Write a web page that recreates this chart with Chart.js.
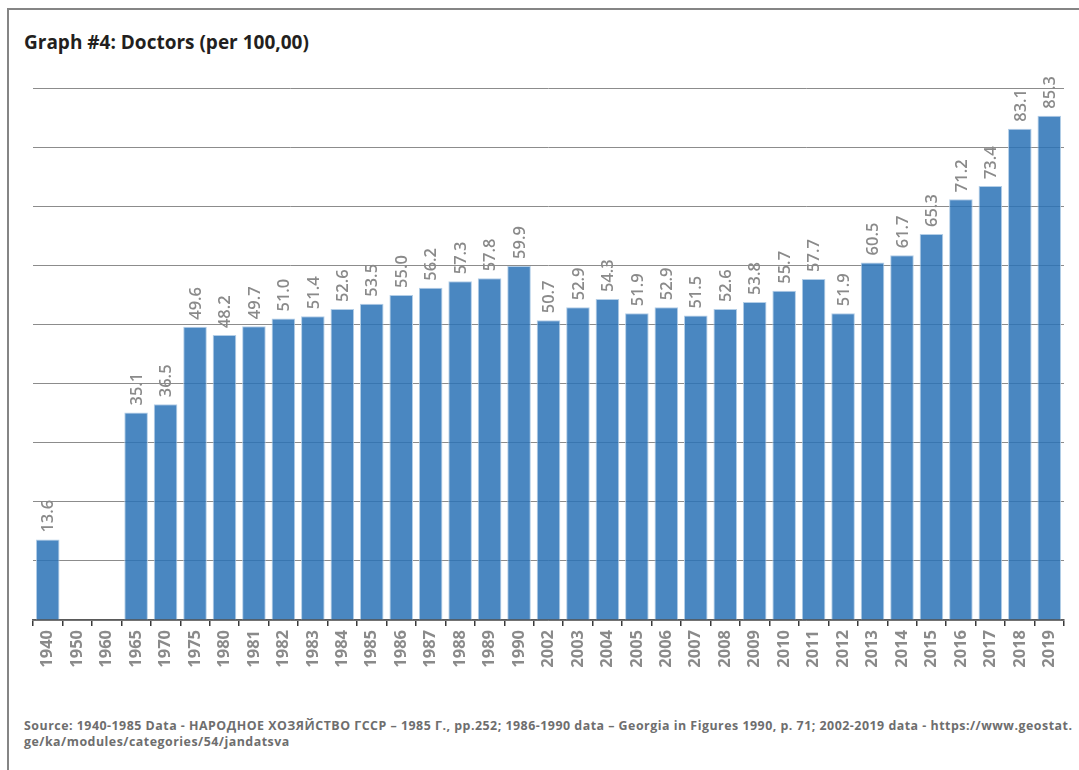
<!DOCTYPE html>
<html>
<head>
<meta charset="utf-8">
<script src="https://cdn.jsdelivr.net/npm/chart.js@4.4.1/dist/chart.umd.min.js"></script>
<style>
  html, body { margin: 0; padding: 0; background: #ffffff; }
  body { width: 1079px; height: 770px; position: relative; overflow: hidden; }
  .frame { position: absolute; left: 7px; top: 8px; width: 1100px; height: 800px;
           border: 2px solid #858585; box-sizing: border-box; }
  .title { position: absolute; left: 24px; top: 29px; font-family: "Open Sans", sans-serif;
           font-weight: 700; font-size: 19px; color: #231f20; white-space: nowrap; }
  .source { position: absolute; left: 24px; top: 718px; font-family: "Open Sans", sans-serif;
            font-weight: 700; font-size: 12.4px; line-height: 16px; color: #6e6e6e;
            white-space: nowrap; letter-spacing: 0.5px; }
  #chart { position: absolute; left: 0; top: 0; }
</style>
</head>
<body>
<div class="frame"></div>
<div class="title">Graph #4: Doctors (per 100,00)</div>
<canvas id="chart" width="1079" height="700"></canvas>
<div class="source">Source: 1940-1985 Data - НАРОДНОЕ ХОЗЯЙСТВО ГССР – 1985 Г., pp.252; 1986-1990 data – Georgia in Figures 1990, p. 71; 2002-2019 data - https://www.geostat.<br>ge/ka/modules/categories/54/jandatsva</div>
<script>
// Years shown on the horizontal axis
const years = ['1940', '1950', '1960', '1965', '1970', '1975', '1980', '1981', '1982', '1983',
  '1984', '1985', '1986', '1987', '1988', '1989', '1990', '2002', '2003', '2004', '2005',
  '2006', '2007', '2008', '2009', '2010', '2011', '2012', '2013', '2014', '2015', '2016',
  '2017', '2018', '2019'];

// Doctors per 100,000 population (no figures for 1950 and 1960)
const doctors = [13.6, null, null, 35.1, 36.5, 49.6, 48.2, 49.7, 51.0, 51.4,
  52.6, 53.5, 55.0, 56.2, 57.3, 57.8, 59.9, 50.7, 52.9, 54.3, 51.9,
  52.9, 51.5, 52.6, 53.8, 55.7, 57.7, 51.9, 60.5, 61.7, 65.3, 71.2,
  73.4, 83.1, 85.3];

// Value axis range and gridline step
const yMin = 0;
const yMax = 90;
const yStep = 10;

// Writes each bar's value vertically just above the bar
const valueLabels = {
  id: 'valueLabels',
  afterDatasetsDraw(chart) {
    const ctx = chart.ctx;
    const meta = chart.getDatasetMeta(0);
    ctx.save();
    ctx.font = '600 16.5px "Open Sans", sans-serif';
    ctx.fillStyle = '#8a8a8a';
    ctx.textAlign = 'left';
    ctx.textBaseline = 'middle';
    meta.data.forEach((bar, i) => {
      const v = doctors[i];
      if (v === null || v === undefined) return;
      ctx.save();
      ctx.translate(bar.x + 1, bar.y - 7);
      ctx.rotate(-Math.PI / 2);
      ctx.fillText(v.toFixed(1), 0, 0);
      ctx.restore();
    });
    ctx.restore();
  }
};

new Chart(document.getElementById('chart'), {
  type: 'bar',
  data: {
    labels: years,
    datasets: [{
      data: doctors,
      backgroundColor: 'rgba(42, 114, 182, 0.85)',
      borderColor: 'rgba(175, 203, 230, 0.95)',
      borderWidth: 1,
      categoryPercentage: 1.0,
      barPercentage: 0.8
    }]
  },
  options: {
    responsive: false,
    animation: false,
    devicePixelRatio: 1,
    layout: { padding: { left: 33, right: 15, top: 88, bottom: 20 } },
    plugins: {
      legend: { display: false },
      tooltip: { enabled: false },
      title: { display: false }
    },
    scales: {
      x: {
        offset: true,
        afterFit(scale) { scale.height = 60; },
        grid: {
          offset: true,
          drawOnChartArea: false,
          drawTicks: true,
          tickLength: 6,
          color: '#3a3a3a',
          lineWidth: 1.5
        },
        border: { display: true, color: '#5a5a5a', width: 1.5 },
        ticks: {
          autoSkip: false,
          maxRotation: 90,
          minRotation: 90,
          padding: 4,
          color: '#8a8a8a',
          font: { family: '"Open Sans", sans-serif', size: 16.5, weight: '700' }
        }
      },
      y: {
        min: yMin,
        max: yMax,
        ticks: { display: false, stepSize: yStep },
        grid: { drawTicks: false, color: '#8c8c8c', lineWidth: 1 },
        border: { display: false }
      }
    }
  },
  plugins: [valueLabels]
});
</script>
</body>
</html>
